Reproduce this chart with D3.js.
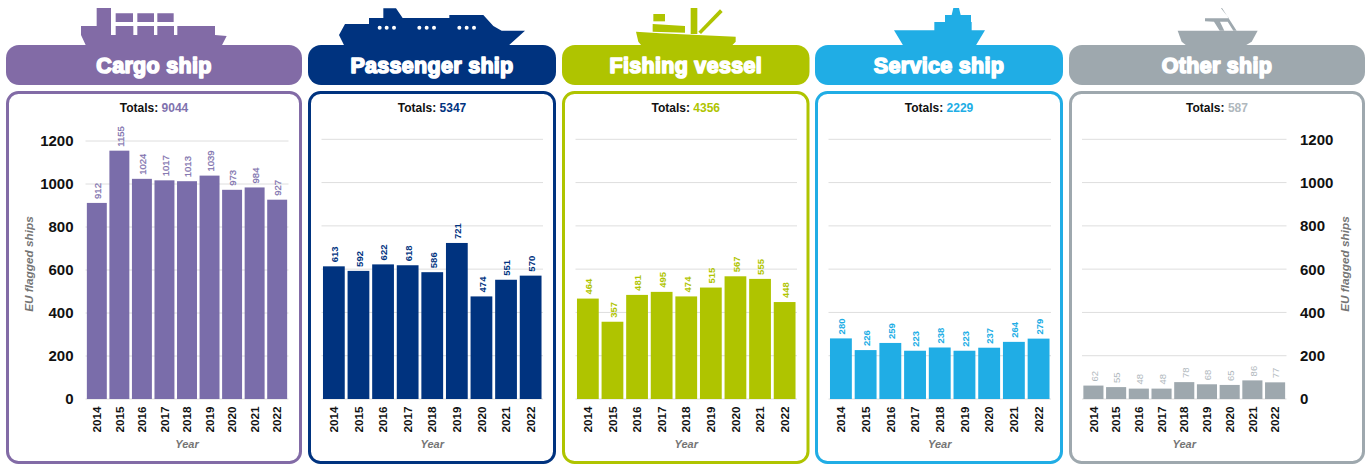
<!DOCTYPE html>
<html>
<head>
<meta charset="utf-8">
<script src="https://cdn.jsdelivr.net/npm/d3@7/dist/d3.min.js"></script>
<style>
html,body{margin:0;padding:0;background:#fff}
svg{display:block}
text{font-family:"Liberation Sans",Arial,sans-serif}
</style>
</head>
<body>
<svg id="chart" width="1368" height="465"></svg>
<script>
// EU flagged ships by ship type and year
const years = ["2014","2015","2016","2017","2018","2019","2020","2021","2022"];
const shipTypes = ["Cargo ship","Passenger ship","Fishing vessel","Service ship","Other ship"];
const cargoValues = [912,1155,1024,1017,1013,1039,973,984,927];
const passengerValues = [613,592,622,618,586,721,474,551,570];
const fishingValues = [464,357,481,495,474,515,567,555,448];
const serviceValues = [280,226,259,223,238,223,237,264,279];
const otherValues = [62,55,48,48,78,68,65,86,77];
const seriesValues = [cargoValues,passengerValues,fishingValues,serviceValues,otherValues];
const yTicks = [0,200,400,600,800,1000,1200];
const headerColors = ["#826ba6","#00337f","#afc400","#20ade5","#9ea8ae"];
const barColors = ["#7a6daa","#00337f","#afc400","#20ade5","#9ea8ae"];
const labelColors = ["#7f72ae","#00337f","#afc400","#20ade5","#b0b8bd"];

// Panel frames and plot extents, per ship type
const frameX = [[6,302],[308,556],[562,809.5],[815,1063],[1069,1365]];
const plotX = [[85.5,288.5],[321.5,543],[575.5,797],[828.5,1051],[1082,1286.5]];
const y0 = 399;
const yTop = [141,139.3,139.3,139.3,139.3];

const svg = d3.select("#chart");
const yScales = yTop.map(t => d3.scaleLinear().domain([0,1200]).range([y0,t]));

// Ship silhouettes, drawn in a 3x grid and scaled down when placed
const icons = [
  {dx:0, shapes:[
    {d:"M243 78H290V24H333V105H347V78H400V105H412V78H462V105H472V78H522V105H532V78H645V105L680 108L665 137H258L243 105Z"},
    {d:"M347 40H399V66H347ZM412 40H462V66H412ZM472 40H521V66H472Z"}]},
  {dx:300, shapes:[
    {d:"M117 105L135 72H207V54H250V25H288L308 54H448V45H550L580 78L605 92H675L625 137H133Z M233 83a6 6 0 1 0 12 0a6 6 0 1 0 -12 0Z M254 83a6 6 0 1 0 12 0a6 6 0 1 0 -12 0Z M276 83a6 6 0 1 0 12 0a6 6 0 1 0 -12 0Z M352 83a6 6 0 1 0 12 0a6 6 0 1 0 -12 0Z M374 83a6 6 0 1 0 12 0a6 6 0 1 0 -12 0Z M396 83a6 6 0 1 0 12 0a6 6 0 1 0 -12 0Z M472 83a6 6 0 1 0 12 0a6 6 0 1 0 -12 0Z M494 83a6 6 0 1 0 12 0a6 6 0 1 0 -12 0Z M516 83a6 6 0 1 0 12 0a6 6 0 1 0 -12 0Z", rule:"evenodd"}]},
  {dx:560, shapes:[
    {d:"M228 95L300 100L527 110V125L515 137H245L235 125Z"},
    {d:"M278 72L375 78V98L278 95Z"},
    {d:"M280 42H315V64H280Z"},
    {d:"M392 24H412V102H392Z"},
    {d:"M415 95L480 28L488 36L423 102Z"}]},
  {dx:815, shapes:[
    {d:"M237 91H358V66H390V45H410L415 24H432L437 45H468V66H470V91H510L482 137H265Z"}]},
  {dx:1065, shapes:[
    {d:"M338 92H578L560 125L540 137H365L350 125Z"},
    {d:"M420 55H492L468 25L471 24L515 92H505L488 65H465L478 92H464L447 65L420 64Z"}]}
];

shipTypes.forEach((name,i) => {
  const color = headerColors[i];
  const values = seriesValues[i];
  const y = yScales[i];
  const [fx0,fx1] = frameX[i];
  const [px0,px1] = plotX[i];
  const g = svg.append("g").attr("class","panel");

  // Ship silhouette above the header
  const ic = g.append("g").attr("transform",`translate(${icons[i].dx},0) scale(${1/3})`);
  icons[i].shapes.forEach(s => ic.append("path").attr("d",s.d).attr("fill",color).attr("fill-rule",s.rule||"nonzero"));

  // Header pill
  g.append("rect").attr("x",fx0).attr("y",45).attr("width",fx1-fx0).attr("height",40).attr("rx",13).attr("fill",color);
  g.append("text").attr("x",(fx0+fx1)/2).attr("y",72.5).attr("text-anchor","middle")
    .attr("font-size",21.5).attr("font-weight",700).attr("letter-spacing",.3).attr("fill","#fff")
    .attr("stroke","#fff").attr("stroke-width",1.6).attr("stroke-linejoin","round").text(name);

  // Outlined panel
  g.append("rect").attr("x",fx0+1.5).attr("y",92.5).attr("width",fx1-fx0-3).attr("height",370).attr("rx",11)
    .attr("fill","#fff").attr("stroke",color).attr("stroke-width",3);

  // Totals line
  const total = g.append("text").attr("x",(fx0+fx1)/2).attr("y",112).attr("text-anchor","middle")
    .attr("font-size",12).attr("font-weight",700).attr("fill","#111");
  total.append("tspan").text("Totals: ");
  total.append("tspan").attr("fill",labelColors[i]).text(d3.sum(values));

  // Gridlines
  g.append("g").selectAll("line").data(yTicks).join("line")
    .attr("x1",px0).attr("x2",px1)
    .attr("y1",d=>y(d)).attr("y2",d=>y(d))
    .attr("stroke","#dedede").attr("stroke-width",1);

  const x = d3.scaleBand().domain(years).range([px0,px1]).paddingInner(.115).paddingOuter(.06);

  // Bars
  g.append("g").selectAll("rect").data(values).join("rect")
    .attr("x",(d,k)=>x(years[k])).attr("width",x.bandwidth())
    .attr("y",d=>y(d)).attr("height",d=>y0-y(d))
    .attr("fill",barColors[i]);

  // Value labels, turned to read bottom-to-top
  g.append("g").selectAll("text").data(values).join("text")
    .attr("transform",(d,k)=>`translate(${x(years[k])+x.bandwidth()/2+4.3},${y(d)-4}) rotate(-90)`)
    .attr("font-size",9.5).attr("font-weight",i===0||i===4?400:700)
    .attr("stroke",labelColors[i]).attr("stroke-width",i===0?.25:0)
    .attr("fill",labelColors[i]).text(d=>d);

  // Year axis
  const xAxis = g.append("g").attr("transform",`translate(0,${y0})`)
    .call(d3.axisBottom(x).tickSize(0).tickPadding(0));
  xAxis.select(".domain").remove();
  xAxis.selectAll("text")
    .attr("font-family","Liberation Sans").attr("font-size",11.7).attr("font-weight",700).attr("fill","#111")
    .attr("text-anchor","end").attr("dy",0).attr("y",0)
    .attr("transform","translate(4.2,7.5) rotate(-90)");

  g.append("text").attr("x",(px0+px1)/2).attr("y",448).attr("text-anchor","middle")
    .attr("font-size",11).attr("font-weight",700).attr("font-style","italic").attr("fill","#757575").text("Year");
});

// Value axis on the first panel
const leftAxis = svg.append("g").attr("transform","translate(73.5,0)")
  .call(d3.axisLeft(yScales[0]).tickValues(yTicks).tickSize(0).tickPadding(0).tickFormat(d3.format("d")));
// Value axis on the last panel
const rightAxis = svg.append("g").attr("transform","translate(1300,0)")
  .call(d3.axisRight(yScales[4]).tickValues(yTicks).tickSize(0).tickPadding(0).tickFormat(d3.format("d")));
[leftAxis,rightAxis].forEach(a => {
  a.select(".domain").remove();
  a.selectAll("text").attr("font-family","Liberation Sans").attr("font-size",15).attr("font-weight",700).attr("fill","#111").attr("dy","0.33em");
});

[33,1349].forEach(tx => {
  svg.append("text").attr("transform",`translate(${tx},264) rotate(-90)`).attr("text-anchor","middle")
    .attr("font-size",11.8).attr("font-weight",700).attr("font-style","italic").attr("fill","#757575").text("EU flagged ships");
});
</script>
</body>
</html>
